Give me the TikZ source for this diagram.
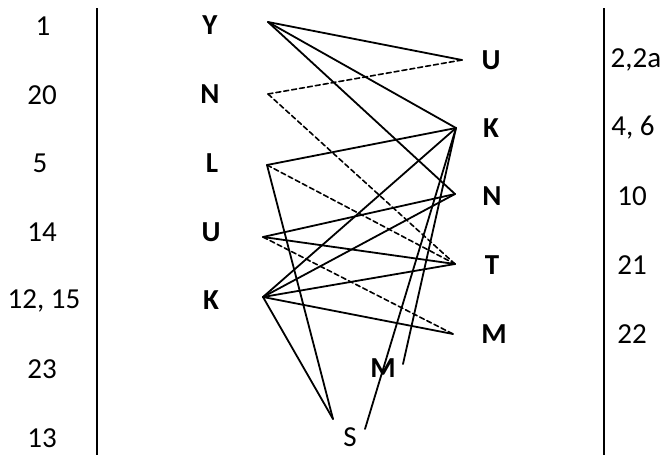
\documentclass[tikz,border=0pt]{standalone}
\usepackage{fontspec}
\setmainfont{Carlito}
\tikzset{
  conn/.style={line width=1.8pt, line cap=round},
  dconn/.style={conn, line width=1.6pt, dash pattern=on 5pt off 3pt},
  rule/.style={line width=2pt},
  num/.style={font=\fontsize{29}{32}\selectfont, inner sep=0pt},
  lett/.style={font=\fontsize{29}{32}\selectfont\bfseries, inner sep=0pt},
}
\begin{document}
\begin{tikzpicture}[x=1pt,y=-1pt]
\useasboundingbox (0,0) rectangle (667,455);
% vertical rules
\coordinate (lt) at (97,8); \coordinate (lb) at (97,455);
\coordinate (rt) at (604,8); \coordinate (rb) at (604,455);
\draw[rule] (lt) -- (lb);
\draw[rule] (rt) -- (rb);
% left numbers
\node[num] (n1) at (43,26) {1};
\node[num] (n20) at (42,95) {20};
\node[num] (n5) at (40,163) {5};
\node[num] (n14) at (42,232) {14};
\node[num] (n1215) at (44,301) {12, 15};
\node[num] (n23) at (42,369) {23};
\node[num] (n13) at (42,438) {13};
% left letters
\node[lett] (lY) at (210,25) {Y};
\node[lett] (lN) at (210,94) {N};
\node[lett] (lL) at (212,163) {L};
\node[lett] (lU) at (211,232) {U};
\node[lett] (lK) at (211,300) {K};
% right letters
\node[lett] (rU) at (491,60) {U};
\node[lett] (rK) at (491,128) {K};
\node[lett] (rN) at (492,196) {N};
\node[lett] (rT) at (492,265) {T};
\node[lett] (rM) at (494,334) {M};
\node[lett] (mM) at (383,368) {M};
\node[num] (sS) at (350,437) {S};
% right numbers
\node[num] (r1) at (636,60) {2,2a};
\node[num] (r2) at (633,128) {4, 6};
\node[num] (r3) at (632,196) {10};
\node[num] (r4) at (632,265) {21};
\node[num] (r5) at (632,334) {22};
% connection points
\coordinate (pY) at (268,22);
\coordinate (pN) at (268,94);
\coordinate (pL) at (267,165);
\coordinate (pU) at (263,237);
\coordinate (pK) at (263,297);
\coordinate (qU) at (462,60);
\coordinate (qK) at (456,128);
\coordinate (qN) at (455,194);
\coordinate (qT) at (455,264);
\coordinate (qM) at (453,334);
\coordinate (qS1) at (333,419);
\coordinate (qS2) at (365,429);
\coordinate (qMm) at (403,364);
% solid connectors
\draw[conn] (pY) -- (qU);
\draw[conn] (pY) -- (qK);
\draw[conn] (pY) -- (qN);
\draw[conn] (pL) -- (qK);
\draw[conn] (pL) -- (qS1);
\draw[conn] (pU) -- (qN);
\draw[conn] (pU) -- (qT);
\draw[conn] (pK) -- (qK);
\draw[conn] (pK) -- (qN);
\draw[conn] (pK) -- (qT);
\draw[conn] (pK) -- (qM);
\draw[conn] (pK) -- (qS1);
\draw[conn] (qK) -- (qS2);
\draw[conn] (qK) -- (qMm);
% dashed connectors
\draw[dconn] (pN) -- (qU);
\draw[dconn] (pN) -- (qT);
\draw[dconn] (pL) -- (qT);
\draw[dconn] (pU) -- (qM);
\end{tikzpicture}
\end{document}
